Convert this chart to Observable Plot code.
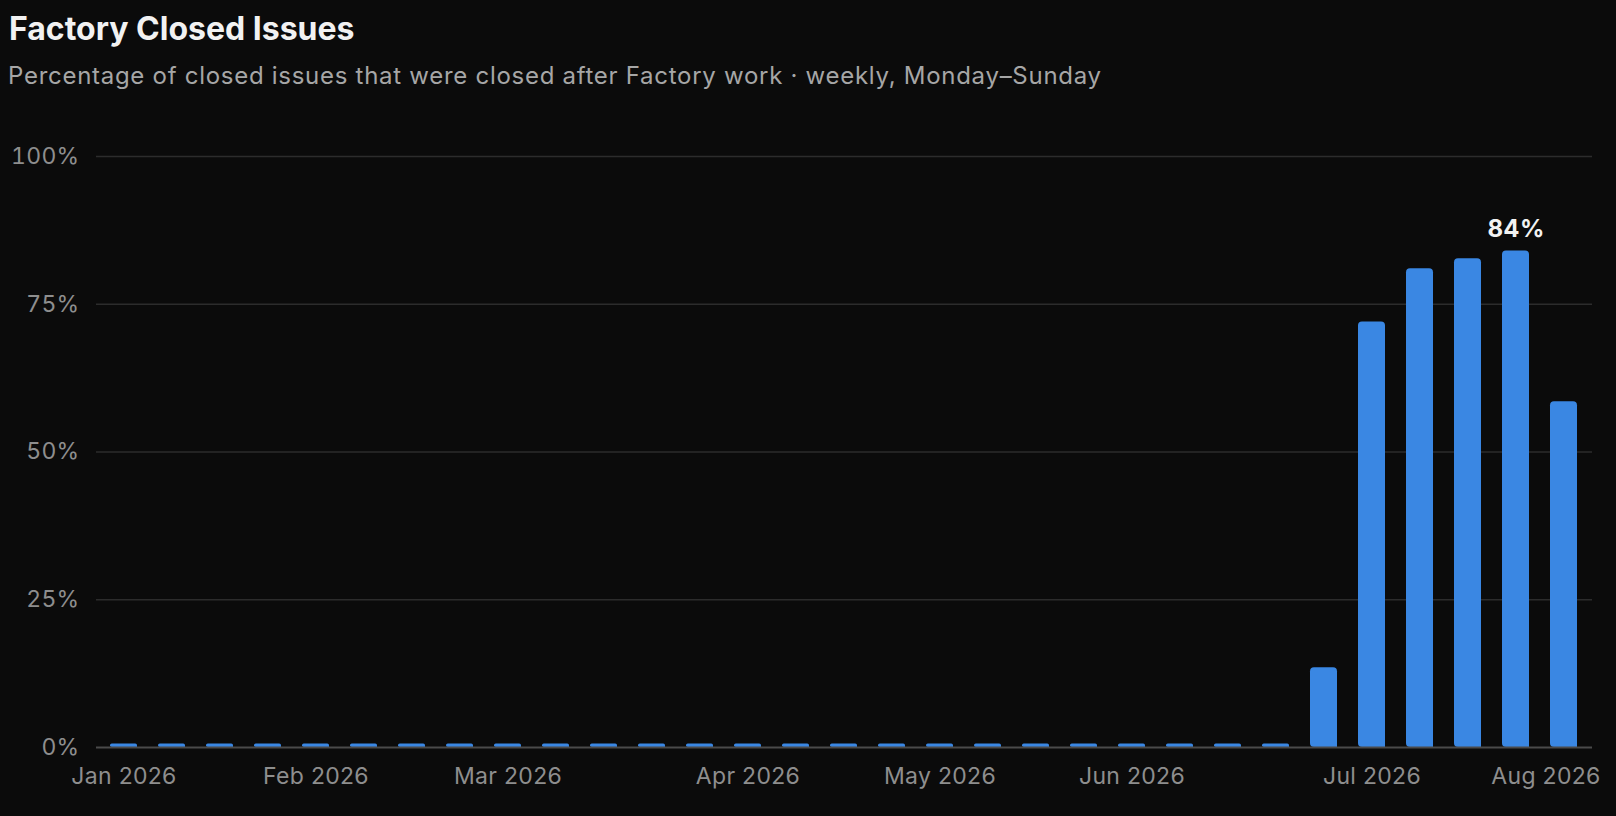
<!DOCTYPE html>
<html>
<head>
<meta charset="utf-8">
<script src="https://cdn.jsdelivr.net/npm/d3@7"></script>
<script src="https://cdn.jsdelivr.net/npm/@observablehq/plot@0.6"></script>
<style>
  html, body { margin: 0; padding: 0; background: #0b0b0b; }
  body { width: 1616px; height: 816px; position: relative; overflow: hidden;
         font-family: Inter, "Noto Sans", sans-serif; }
  #title { position: absolute; left: 9px; top: 13px; font-size: 32px; line-height: 32px;
           font-weight: 700; color: #f2f2f2; white-space: nowrap; }
  #subtitle { position: absolute; left: 8px; top: 64px; font-size: 24px; line-height: 24px;
              letter-spacing: 0.72px; color: #a6a6a6; white-space: nowrap; }
  #chart { position: absolute; left: 0; top: 100px; }
  #chart svg text { letter-spacing: 0.3px; }
</style>
</head>
<body>
<div id="title">Factory Closed Issues</div>
<div id="subtitle">Percentage of closed issues that were closed after Factory work · weekly, Monday–Sunday</div>
<div id="chart"></div>
<script>
// Week start dates (Mondays)
const weeks = [
  "2026-01-05","2026-01-12","2026-01-19","2026-01-26",
  "2026-02-02","2026-02-09","2026-02-16","2026-02-23",
  "2026-03-02","2026-03-09","2026-03-16","2026-03-23","2026-03-30",
  "2026-04-06","2026-04-13","2026-04-20","2026-04-27",
  "2026-05-04","2026-05-11","2026-05-18","2026-05-25",
  "2026-06-01","2026-06-08","2026-06-15","2026-06-22","2026-06-29",
  "2026-07-06","2026-07-13","2026-07-20","2026-07-27",
  "2026-08-03"
];
// Percentage of closed issues closed after Factory work
const pctValues = [
  0,0,0,0,
  0,0,0,0,
  0,0,0,0,0,
  0,0,0,0,
  0,0,0,0,
  0,0,0,0,13.5,
  72,81,82.7,84,
  58.5
];
// X tick weeks (first week of each month) and their labels
const xTickWeeks = ["2026-01-05","2026-02-02","2026-03-02","2026-04-06","2026-05-04","2026-06-01","2026-07-06","2026-08-03"];
const xTickLabels = ["Jan 2026","Feb 2026","Mar 2026","Apr 2026","May 2026","Jun 2026","Jul 2026","Aug 2026"];
const yTicks = [0, 25, 50, 75, 100];

const minVisible = 0.6; // zero weeks are drawn as a thin stub
const data = weeks.map((w, i) => ({week: w, value: pctValues[i]}));
const maxVal = d3.max(pctValues);
const labelMap = new Map(xTickWeeks.map((w, i) => [w, xTickLabels[i]]));

const font = "Inter, 'Noto Sans', sans-serif";
const chart = Plot.plot({
  width: 1616,
  height: 716,
  marginLeft: 96,
  marginRight: 24,
  marginTop: 56,
  marginBottom: 69,
  style: {background: "#0b0b0b", color: "#8e8e8e", fontFamily: font, fontSize: "23px"},
  x: {type: "band", domain: weeks, paddingInner: 0.43, paddingOuter: 0.215, label: null},
  y: {domain: [0, 100], label: null},
  marks: [
    Plot.ruleY(yTicks.filter(t => t > 0), {stroke: "#2c2c2c", strokeWidth: 1.5}),
    Plot.axisY({ticks: yTicks, tickFormat: d => d + "%", tickSize: 0, tickPadding: 17,
                fill: "#8e8e8e", fontSize: 23, label: null}),
    Plot.axisX({ticks: xTickWeeks.slice(0, -1), tickFormat: d => labelMap.get(d), tickSize: 0,
                tickPadding: 20, fill: "#8e8e8e", fontSize: 23, label: null}),
    Plot.axisX({ticks: xTickWeeks.slice(-1), tickFormat: d => labelMap.get(d), tickSize: 0,
                tickPadding: 20, dx: -18, fill: "#8e8e8e", fontSize: 23, label: null}),
    Plot.barY(data, {x: "week", y: d => Math.max(d.value, minVisible), fill: "#3a87e3", ry1: 4, rx1: 4}),
    Plot.ruleY([0], {stroke: "#4a4a4a", strokeWidth: 2}),
    Plot.text(data.filter(d => d.value === maxVal), {
      x: "week", y: "value", text: d => Math.round(d.value) + "%",
      dy: -14, lineAnchor: "bottom", fill: "#f2f2f2", fontWeight: 700, fontSize: 24
    })
  ]
});
document.getElementById("chart").appendChild(chart);
</script>
</body>
</html>
